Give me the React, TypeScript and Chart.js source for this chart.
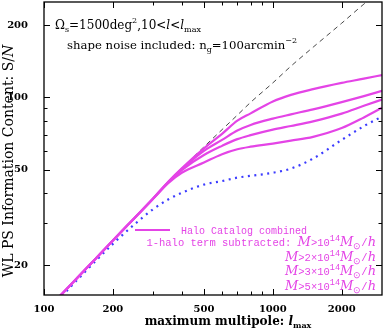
import React, { useEffect, useRef } from "react";
import { Chart, registerables } from "chart.js";

Chart.register(...registerables);

// maximum multipole l_max
const ELL = [100, 150, 200, 250, 300, 350, 400, 500, 600, 700, 800, 1000, 1200, 1500, 2000, 2500, 3000];
// dashed reference line (Gaussian)
const SN_REF = [12.65, 18.97, 25.3, 31.6, 37.9, 44.6, 50.6, 62.2, 73.4, 84.4, 95.4, 115, 135, 162, 204, 245, 281];
// 1-halo term subtracted curves
const SN_M1 = [12.65, 18.97, 25.3, 31.6, 37.9, 44.6, 50.6, 61.3, 70.5, 80.0, 85.8, 96.2, 102.5, 108.3, 115, 119.7, 124];
const SN_M2 = [12.65, 18.97, 25.3, 31.6, 37.9, 44.5, 50.2, 59.8, 66.5, 72.8, 76.8, 81.6, 85, 89.2, 95.6, 101.3, 106.5];
const SN_M3 = [12.65, 18.97, 25.3, 31.6, 37.9, 44.4, 49.8, 57.5, 62.8, 67.0, 69.6, 73.4, 76, 79.5, 85.6, 92.3, 98];
const SN_M5 = [12.65, 18.97, 25.3, 31.6, 37.8, 44.0, 48.5, 53.5, 58.0, 60.8, 62.3, 64.2, 66, 68.5, 74.5, 82.5, 90.5];
// halo catalog combined (dotted)
const SN_HALO = [12.4, 18.6, 24.5, 29.7, 34.2, 37.6, 40.0, 43.3, 44.8, 46.3, 47.1, 48.5, 50.5, 55.6, 66.5, 75.9, 83.2];

const X_LABELS = [100, 200, 500, 1000, 2000];
const X_MINOR = [300, 400, 600, 700, 800, 900];
const Y_LABELS = [20, 50, 100, 200];
const Y_MINOR = [30, 40, 60, 70, 80, 90];

const MAGENTA = "#e444e6";
const BLUE = "#3c3cff";
const SERIF = "'DejaVu Serif'";
const MONO = "'Liberation Mono'";

type Seg = { t: string; f: string; dy?: number };

function richWidth(ctx: CanvasRenderingContext2D, segs: Seg[]) {
  let w = 0;
  for (const s of segs) {
    ctx.font = s.f;
    w += ctx.measureText(s.t).width;
  }
  return w;
}

function drawRich(ctx: CanvasRenderingContext2D, segs: Seg[], x: number, y: number, align: "left" | "right" | "center", color: string) {
  const w = richWidth(ctx, segs);
  let cx = align === "left" ? x : align === "right" ? x - w : x - w / 2;
  ctx.fillStyle = color;
  ctx.textAlign = "left";
  ctx.textBaseline = "alphabetic";
  for (const s of segs) {
    ctx.font = s.f;
    ctx.fillText(s.t, cx, y + (s.dy || 0));
    cx += ctx.measureText(s.t).width;
  }
}

const decorPlugin = {
  id: "decor",
  afterDraw(chart: any) {
    const ctx: CanvasRenderingContext2D = chart.ctx;
    const { left, right, top, bottom } = chart.chartArea;
    const xs = chart.scales.x;
    const ys = chart.scales.y;
    ctx.save();
    // frame
    ctx.strokeStyle = "#000";
    ctx.lineWidth = 1.3;
    ctx.strokeRect(left, top, right - left, bottom - top);
    // ticks (inward, all four sides)
    ctx.lineWidth = 1;
    const tickX = (v: number, len: number) => {
      const p = Math.round(xs.getPixelForValue(v)) + 0.5;
      ctx.beginPath();
      ctx.moveTo(p, bottom);
      ctx.lineTo(p, bottom - len);
      ctx.moveTo(p, top);
      ctx.lineTo(p, top + len);
      ctx.stroke();
    };
    const tickY = (v: number, len: number) => {
      const p = Math.round(ys.getPixelForValue(v)) + 0.5;
      ctx.beginPath();
      ctx.moveTo(left, p);
      ctx.lineTo(left + len, p);
      ctx.moveTo(right, p);
      ctx.lineTo(right - len, p);
      ctx.stroke();
    };
    X_LABELS.forEach((v) => tickX(v, 6));
    X_MINOR.forEach((v) => tickX(v, 3.5));
    Y_LABELS.forEach((v) => tickY(v, 6));
    Y_MINOR.forEach((v) => tickY(v, 3.5));

    // annotations
    const f12 = `12px ${SERIF}`;
    const f12i = `italic 12px ${SERIF}`;
    const f8 = `8px ${SERIF}`;
    drawRich(ctx, [
      { t: "Ω", f: f12 },
      { t: "s", f: f8, dy: 3 },
      { t: "=1500deg", f: f12 },
      { t: "2", f: f8, dy: -6 },
      { t: ",10<", f: f12 },
      { t: "l", f: f12i },
      { t: "<", f: f12 },
      { t: "l", f: f12i },
      { t: "max", f: f8, dy: 3 },
    ], 55, 29, "left", "#000");
    drawRich(ctx, [
      { t: "shape noise included: n", f: `11.7px ${SERIF}` },
      { t: "g", f: f8, dy: 3 },
      { t: "=100arcmin", f: `11.7px ${SERIF}` },
      { t: "−2", f: f8, dy: -6 },
    ], 67, 49, "left", "#000");

    // legend
    ctx.strokeStyle = MAGENTA;
    ctx.lineWidth = 2.2;
    ctx.beginPath();
    ctx.moveTo(135, 230);
    ctx.lineTo(170, 230);
    ctx.stroke();
    const m10 = `10px ${MONO}`;
    const m105 = `10.5px ${MONO}`;
    const mi = `italic 13px ${SERIF}`;
    const ms = `8.5px ${MONO}`;
    drawRich(ctx, [{ t: "Halo Catalog combined", f: m10 }], 181, 233.5, "left", MAGENTA);
    const massSegs = (pre: string, mult: string): Seg[] => [
      { t: pre, f: m105 },
      { t: "M", f: mi },
      { t: ">" + mult + "10", f: m105 },
      { t: "14", f: ms, dy: -5 },
      { t: "M", f: mi },
      { t: "⊙", f: ms, dy: 3 },
      { t: "/", f: m105 },
      { t: "h", f: mi },
    ];
    drawRich(ctx, massSegs("1-halo term subtracted: ", ""), 376, 245.5, "right", MAGENTA);
    drawRich(ctx, massSegs("", "2×"), 376, 261, "right", MAGENTA);
    drawRich(ctx, massSegs("", "3×"), 376, 275, "right", MAGENTA);
    drawRich(ctx, massSegs("", "5×"), 376, 289.5, "right", MAGENTA);

    // axis titles
    const tb = `bold 12px ${SERIF}`;
    const tbi = `bold italic 12px ${SERIF}`;
    const tbs = `bold 8px ${SERIF}`;
    drawRich(ctx, [
      { t: "maximum multipole: ", f: tb },
      { t: "l", f: tbi },
      { t: "max", f: tbs, dy: 3 },
    ], 228, 325, "center", "#000");

    ctx.save();
    ctx.translate(13, 161);
    ctx.rotate(-Math.PI / 2);
    drawRich(ctx, [
      { t: "WL PS Information Content: S/", f: `14px ${SERIF}` },
      { t: "N", f: `italic 14px ${SERIF}` },
    ], 0, 0, "center", "#000");
    ctx.restore();

    ctx.restore();
  },
};

export default function App() {
  const ref = useRef<HTMLCanvasElement | null>(null);
  useEffect(() => {
    if (!ref.current) return;
    const line = (data: number[], color: string, extra: any = {}) => ({
      data: ELL.map((l, i) => ({ x: l, y: data[i] })),
      borderColor: color,
      borderWidth: 2.2,
      pointRadius: 0,
      fill: false,
      cubicInterpolationMode: "monotone",
      ...extra,
    });
    const chart = new Chart(ref.current, {
      type: "line",
      data: {
        datasets: [
          line(SN_M1, MAGENTA),
          line(SN_M2, MAGENTA),
          line(SN_M3, MAGENTA),
          line(SN_M5, MAGENTA),
          line(SN_HALO, BLUE, { borderDash: [2, 4.5], borderWidth: 2.2 }),
          line(SN_REF, "#333", { borderDash: [5, 4], borderWidth: 0.9 }),
        ] as any,
      },
      options: {
        animation: false,
        responsive: false,
        events: [],
        layout: { padding: { top: 2, right: 1, left: 0, bottom: 0 } },
        plugins: { legend: { display: false }, tooltip: { enabled: false } },
        scales: {
          x: {
            type: "logarithmic",
            min: 100,
            max: 3000,
            grid: { display: false },
            border: { display: false },
            afterBuildTicks: (s: any) => {
              s.ticks = X_LABELS.map((v) => ({ value: v }));
            },
            afterFit: (s: any) => {
              s.height = 37;
              s.paddingLeft = 0;
              s.paddingRight = 0;
            },
            ticks: {
              autoSkip: false,
              maxRotation: 0,
              padding: 0,
              color: "#000",
              font: { family: "DejaVu Serif", size: 10, weight: "bold" },
              callback: (v: any) => String(v),
            },
          },
          y: {
            type: "logarithmic",
            min: 15,
            max: 250,
            grid: { display: false },
            border: { display: false },
            afterBuildTicks: (s: any) => {
              s.ticks = Y_LABELS.map((v) => ({ value: v }));
            },
            afterFit: (s: any) => {
              s.width = 44;
              s.paddingTop = 0;
              s.paddingBottom = 0;
            },
            ticks: {
              autoSkip: false,
              padding: 8,
              color: "#000",
              font: { family: "DejaVu Serif", size: 10, weight: "bold" },
              callback: (v: any) => String(v),
            },
          },
        },
      } as any,
      plugins: [decorPlugin],
    });
    return () => chart.destroy();
  }, []);
  return (
    <div style={{ position: "absolute", left: 0, top: 0, width: 383, height: 332, background: "#fff" }}>
      <canvas ref={ref} width={383} height={332} />
    </div>
  );
}
